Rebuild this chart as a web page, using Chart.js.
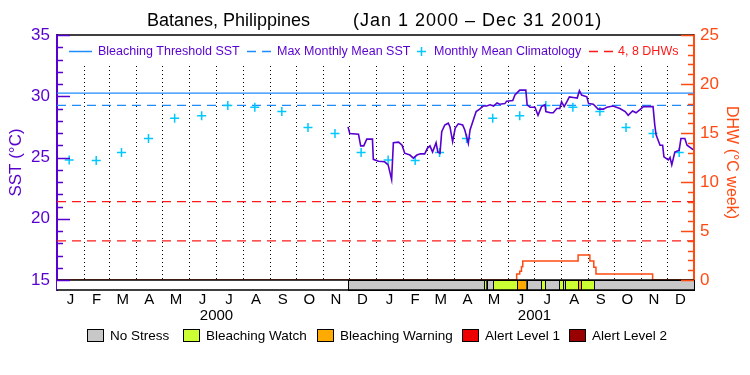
<!DOCTYPE html>
<html>
<head>
<meta charset="utf-8">
<script src="https://cdn.jsdelivr.net/npm/chart.js@4.4.1/dist/chart.umd.min.js"></script>
<style>
    html, body { margin: 0; padding: 0; background: #fff; }
</style>
</head>
<body>
<canvas id="MyChart" width="750" height="375"></canvas>
<script>
// days counted from Jan 1 2000
var monthLetters = ["J", "F", "M", "A", "M", "J", "J", "A", "S", "O", "N", "D"];
var yearLabels = ["2000", "2001"];

var climValues = [24.8, 24.75, 25.4, 26.55, 28.2, 28.4, 29.25, 29.1, 28.75, 27.45, 26.95, 25.4];
var thresholdSST = 30.25;
var mmmSST = 29.25;
var dhwLevels = [4, 8];

var sstDay = [334, 336, 346, 348.5, 352, 355.5, 362, 363, 369, 376, 380, 383, 384, 386, 392, 396, 399, 405, 409, 413,
    417, 422, 425, 428, 431, 435, 437, 439.5, 441.5, 445, 449, 451, 454, 457, 460.5, 465.5, 468, 472, 474, 477,
    481, 485, 489, 493, 497, 501, 505, 508, 514, 516, 523, 525.5, 531, 538, 539.5, 543, 548.5, 552, 556, 560,
    561, 566, 569.5, 573.5, 577, 579, 582, 585, 588, 592.5, 597, 599.5, 602, 608, 610, 615.5, 621, 627, 631, 638,
    646, 652, 655.5, 660.5, 664.5, 669, 673, 684, 686, 687.5, 692, 695, 696.5, 701.5, 703.5, 705.5, 709, 714, 716,
    720.5, 723, 730];
var sstValue = [27.5, 26.95, 26.9, 25.95, 25.95, 26.5, 26.5, 24.85, 24.7, 24.65, 24.4, 23.5, 23.2, 26.2, 26.25, 26.0, 25.35, 25.2, 24.95, 25.2,
    25.3, 25.3, 25.75, 25.95, 25.45, 26.2, 25.45, 25.35, 27.1, 27.65, 27.8, 27.5, 26.3, 27.4, 27.75, 27.65, 27.25, 26.15, 27.25, 27.9,
    28.75, 28.95, 29.2, 29.2, 29.3, 29.2, 29.45, 29.35, 29.4, 29.6, 29.65, 30.1, 30.5, 30.5, 29.3, 29.1, 29.1, 28.45, 29.15, 29.3,
    28.75, 28.65, 28.65, 29.0, 29.0, 29.55, 29.15, 29.55, 29.95, 29.9, 29.85, 30.45, 30.1, 29.95, 29.4, 29.35, 28.95, 28.95, 29.1, 29.2,
    29.0, 28.75, 28.45, 28.8, 28.65, 28.9, 29.15, 29.15, 27.65, 26.85, 26.0, 26.0, 25.05, 24.8, 25.0, 24.4, 25.45, 25.6, 26.55,
    26.55, 26.0, 25.65];

var dhwDay = [0, 527.5, 531, 533, 534.5, 598, 611.5, 616, 618.5, 683.5, 731];
var dhwValue = [0, 0.6, 0.9, 1.35, 1.95, 2.55, 1.95, 1.3, 0.6, 0, 0];

// 0 no stress, 1 watch, 2 warning, 3 alert 1, 4 alert 2
var stressStart = [334, 490.4, 493.1, 500.7, 528.2, 539, 555.4, 560, 576.1, 581, 583.3, 598.2, 601.7, 616.6];
var stressLevel = [0, 1, 0, 1, 2, 0, 1, 0, 1, 0, 1, 2, 1, 0];
var stressNames = ["No Stress", "Bleaching Watch", "Bleaching Warning", "Alert Level 1", "Alert Level 2"];
var stressColors = ["#c8c8c8", "#ccff33", "#ffaa00", "#ee0000", "#990000"];

var PURPLE = "#5800d0";
var BLUE = "#1e8cff";
var CYAN = "#00c8ff";
var ORANGE = "#ff4a12";
var RED = "#ff1a1a";
var FONT = "'Liberation Sans', Arial, sans-serif";
var TOTAL_DAYS = 731;

function DayOf(y, m, d) {
    return (Date.UTC(y, m, d) - Date.UTC(2000, 0, 1)) / 86400000;
}

var monthStart = [];
var monthMid = [];
for (let i = 0; i < 24; i++) {
    let y = 2000 + Math.floor(i / 12);
    let s = DayOf(y, i % 12, 1);
    let e = DayOf(y, i % 12 + 1, 1);
    monthStart.push(s);
    monthMid.push((s + e) / 2);
}

function MakePoints(xs, ys) {
    return xs.map((x, i) => ({ x: x, y: ys[i] }));
}

var climPoints = [];
for (let i = 0; i < 24; i++) {
    climPoints.push({ x: monthStart[i] + 14, y: climValues[i % 12] });
}

function HLine(v) {
    return [{ x: 0, y: v }, { x: TOTAL_DAYS, y: v }];
}

const decorPlugin = {
    id: "decor",
    beforeDatasetsDraw(chart) {
        const ctx = chart.ctx;
        const xs = chart.scales.x;
        ctx.save();
        ctx.strokeStyle = "#000";
        ctx.lineWidth = 1;
        ctx.setLineDash([1, 3]);
        for (let i = 1; i < monthStart.length; i++) {
            let px = Math.round(xs.getPixelForValue(monthStart[i])) + 0.5;
            ctx.beginPath();
            ctx.moveTo(px, 66);
            ctx.lineTo(px, chart.scales.y.getPixelForValue(15));
            ctx.stroke();
        }
        ctx.restore();
    },
    afterDatasetsDraw(chart) {
        const ctx = chart.ctx;
        const area = chart.chartArea;
        const xs = chart.scales.x;
        const ys = chart.scales.y;
        const y2 = chart.scales.y2;
        const barTop = Math.round(ys.getPixelForValue(15));
        const barBot = Math.round(area.bottom);

        ctx.save();
        ctx.setLineDash([]);
        // stress bar
        ctx.fillStyle = "#fff";
        ctx.fillRect(area.left, barTop, area.right - area.left, barBot - barTop);
        for (let i = 0; i < stressStart.length; i++) {
            let end = i + 1 < stressStart.length ? stressStart[i + 1] : TOTAL_DAYS;
            let x0 = xs.getPixelForValue(stressStart[i]);
            let x1 = xs.getPixelForValue(end);
            ctx.fillStyle = stressColors[stressLevel[i]];
            ctx.fillRect(x0, barTop, x1 - x0, barBot - barTop);
            ctx.strokeStyle = "#000";
            ctx.lineWidth = 1;
            ctx.strokeRect(Math.round(x0) + 0.5, barTop + 0.5, Math.round(x1 - x0), barBot - barTop);
        }
        ctx.strokeStyle = "#000";
        ctx.lineWidth = 1.5;
        ctx.beginPath();
        ctx.moveTo(area.left, barTop);
        ctx.lineTo(area.right, barTop);
        ctx.moveTo(area.left, barBot);
        ctx.lineTo(area.right, barBot);
        ctx.moveTo(area.left, area.top);
        ctx.lineTo(area.right, area.top);
        ctx.stroke();

        // axis ticks pointing inside
        ctx.lineWidth = 1.5;
        ctx.strokeStyle = PURPLE;
        ctx.beginPath();
        for (let v = 15; v <= 35; v++) {
            let py = Math.round(ys.getPixelForValue(v)) + 0.5;
            ctx.moveTo(area.left, py);
            ctx.lineTo(area.left + (v % 5 === 0 ? 13 : 6), py);
        }
        ctx.stroke();
        ctx.strokeStyle = ORANGE;
        ctx.beginPath();
        for (let v = 0; v <= 25; v++) {
            let py = Math.round(y2.getPixelForValue(v)) + 0.5;
            ctx.moveTo(area.right, py);
            ctx.lineTo(area.right - (v % 5 === 0 ? 13 : 6), py);
        }
        ctx.stroke();

        // title
        ctx.fillStyle = "#000";
        ctx.font = "18px " + FONT;
        ctx.textBaseline = "middle";
        ctx.textAlign = "right";
        ctx.fillText("Batanes, Philippines", 310, 21);
        ctx.textAlign = "left";
        ctx.letterSpacing = "1px";
        ctx.fillText("(Jan 1 2000 \u2013 Dec 31 2001)", 353, 21);
        ctx.letterSpacing = "0px";

        // years under the month letters
        ctx.font = "15px " + FONT;
        ctx.textAlign = "center";
        yearLabels.forEach((t, i) => {
            ctx.fillText(t, xs.getPixelForValue(DayOf(2000 + i, 6, 2)), 316);
        });

        // top legend
        const ly = 51.5;
        ctx.font = "12.5px " + FONT;
        ctx.textAlign = "left";
        ctx.lineWidth = 1.5;
        ctx.strokeStyle = BLUE;
        ctx.beginPath();
        ctx.moveTo(69, ly);
        ctx.lineTo(92, ly);
        ctx.stroke();
        ctx.setLineDash([9, 6]);
        ctx.beginPath();
        ctx.moveTo(247, ly);
        ctx.lineTo(271, ly);
        ctx.stroke();
        ctx.strokeStyle = RED;
        ctx.beginPath();
        ctx.moveTo(589, ly);
        ctx.lineTo(613, ly);
        ctx.stroke();
        ctx.setLineDash([]);
        ctx.strokeStyle = CYAN;
        ctx.beginPath();
        ctx.moveTo(417, ly);
        ctx.lineTo(426, ly);
        ctx.moveTo(421.5, ly - 4.5);
        ctx.lineTo(421.5, ly + 4.5);
        ctx.stroke();
        ctx.fillStyle = PURPLE;
        ctx.fillText("Bleaching Threshold SST", 98, ly);
        ctx.fillText("Max Monthly Mean SST", 277, ly);
        ctx.fillText("Monthly Mean Climatology", 434, ly);
        ctx.fillStyle = RED;
        ctx.fillText("4, 8 DHWs", 618, ly);

        // stress legend
        const boxX = [87, 183, 317, 462, 569];
        ctx.font = "13.5px " + FONT;
        ctx.lineWidth = 1;
        ctx.strokeStyle = "#000";
        stressNames.forEach((name, i) => {
            ctx.fillStyle = stressColors[i];
            ctx.fillRect(boxX[i], 329, 16, 12);
            ctx.strokeRect(boxX[i] + 0.5, 329.5, 16, 12);
            ctx.fillStyle = "#000";
            ctx.fillText(name, boxX[i] + 23, 336);
        });
        ctx.restore();
    }
};

$ready();

function $ready() {
    const ctx = document.getElementById("MyChart");

    new Chart(ctx, {
        type: "line",
        data: {
            datasets: [
                {
                    label: "SST",
                    data: MakePoints(sstDay, sstValue),
                    yAxisID: "y",
                    borderColor: PURPLE,
                    borderWidth: 1.6,
                    pointRadius: 0
                },
                {
                    label: "Monthly Mean Climatology",
                    data: climPoints,
                    yAxisID: "y",
                    showLine: false,
                    pointStyle: "cross",
                    pointRadius: 4.5,
                    borderWidth: 1.5,
                    borderColor: CYAN
                },
                {
                    label: "Bleaching Threshold SST",
                    data: HLine(thresholdSST),
                    yAxisID: "y",
                    borderColor: BLUE,
                    borderWidth: 1.3,
                    pointRadius: 0
                },
                {
                    label: "Max Monthly Mean SST",
                    data: HLine(mmmSST),
                    yAxisID: "y",
                    borderColor: BLUE,
                    borderWidth: 1.3,
                    borderDash: [9, 6],
                    pointRadius: 0
                },
                {
                    label: "DHW",
                    data: MakePoints(dhwDay, dhwValue),
                    yAxisID: "y2",
                    stepped: true,
                    borderColor: ORANGE,
                    borderWidth: 1.5,
                    pointRadius: 0
                },
                {
                    label: "4 DHW",
                    data: HLine(dhwLevels[0]),
                    yAxisID: "y2",
                    borderColor: RED,
                    borderWidth: 1.3,
                    borderDash: [9, 6],
                    pointRadius: 0
                },
                {
                    label: "8 DHW",
                    data: HLine(dhwLevels[1]),
                    yAxisID: "y2",
                    borderColor: RED,
                    borderWidth: 1.3,
                    borderDash: [9, 6],
                    pointRadius: 0
                }
            ]
        },
        options: {
            responsive: false,
            animation: false,
            devicePixelRatio: 1,
            layout: { padding: { top: 35, left: 0, right: 0, bottom: 0 } },
            plugins: {
                legend: { display: false },
                title: { display: false },
                tooltip: { enabled: false }
            },
            scales: {
                x: {
                    type: "linear",
                    min: 0,
                    max: TOTAL_DAYS,
                    grid: { display: false, drawTicks: false },
                    border: { display: false },
                    afterBuildTicks: (scale) => {
                        scale.ticks = monthMid.map((v) => ({ value: v }));
                    },
                    afterFit: (scale) => { scale.height = 85; },
                    ticks: {
                        autoSkip: false,
                        maxRotation: 0,
                        padding: 1,
                        color: "#000",
                        font: { family: FONT, size: 15 },
                        callback: (value, index) => monthLetters[index % 12]
                    }
                },
                y: {
                    position: "left",
                    min: 15 - 10 / 12.25,
                    max: 35,
                    grid: { display: false, drawTicks: false },
                    border: { color: PURPLE, width: 2 },
                    afterBuildTicks: (scale) => {
                        scale.ticks = [15, 20, 25, 30, 35].map((v) => ({ value: v }));
                    },
                    afterFit: (scale) => { scale.width = 57; },
                    ticks: {
                        padding: 7,
                        color: PURPLE,
                        font: { family: FONT, size: 17 }
                    },
                    title: {
                        display: true,
                        text: "SST (\u00B0C)",
                        color: PURPLE,
                        padding: { top: 6, bottom: 0 },
                        font: { family: FONT, size: 17 }
                    }
                },
                y2: {
                    position: "right",
                    min: -10 / 9.8,
                    max: 25,
                    grid: { display: false, drawTicks: false },
                    border: { color: ORANGE, width: 2 },
                    afterBuildTicks: (scale) => {
                        scale.ticks = [0, 5, 10, 15, 20, 25].map((v) => ({ value: v }));
                    },
                    afterFit: (scale) => { scale.width = 56; },
                    ticks: {
                        padding: 6,
                        color: ORANGE,
                        font: { family: FONT, size: 17 }
                    },
                    title: {
                        display: true,
                        text: "DHW (\u00B0C week)",
                        color: ORANGE,
                        padding: { top: 9, bottom: 0 },
                        font: { family: FONT, size: 16 }
                    }
                }
            }
        },
        plugins: [decorPlugin]
    });
}
</script>
</body>
</html>
